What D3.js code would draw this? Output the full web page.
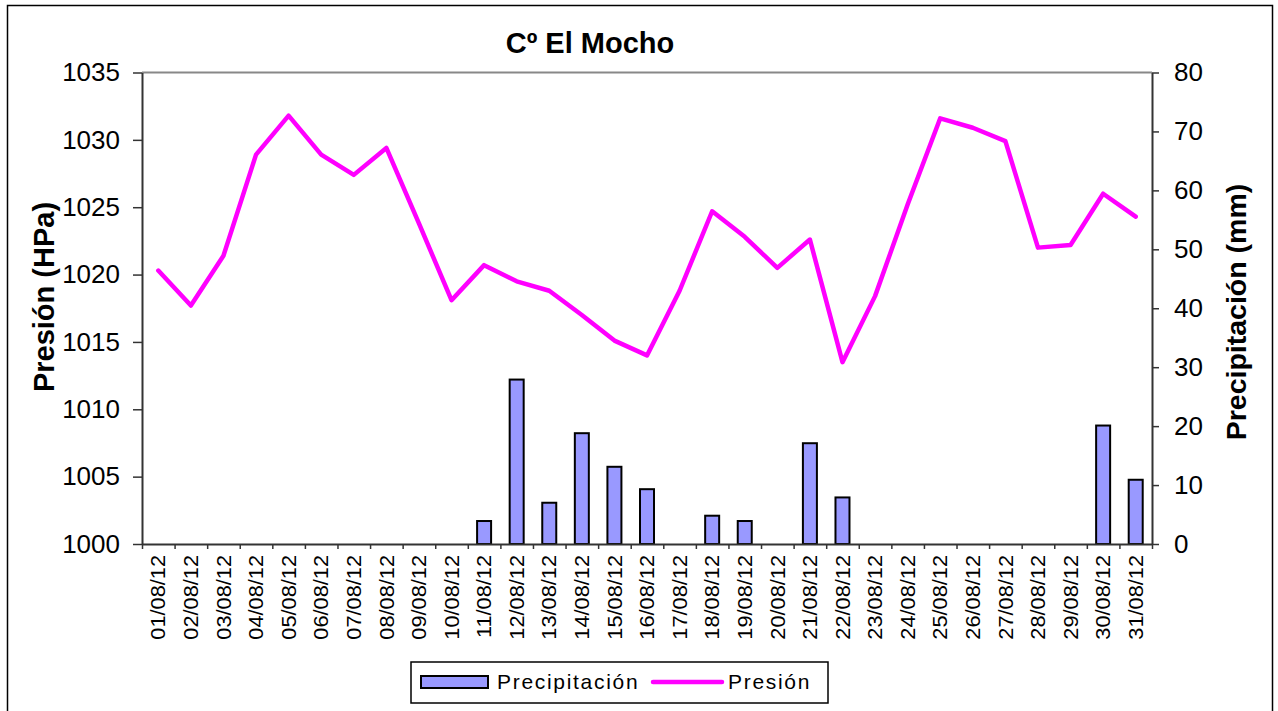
<!DOCTYPE html>
<html>
<head>
<meta charset="utf-8">
<script src="https://cdn.jsdelivr.net/npm/d3@7"></script>
<style>
  body { margin: 0; background: #fff; }
  svg { display: block; }
  text { font-family: "Liberation Sans", Arial, sans-serif; }
</style>
</head>
<body>
<svg id="chart" width="1278" height="711"></svg>
<script>
const dates = ["01/08/12","02/08/12","03/08/12","04/08/12","05/08/12","06/08/12","07/08/12","08/08/12","09/08/12","10/08/12",
  "11/08/12","12/08/12","13/08/12","14/08/12","15/08/12","16/08/12","17/08/12","18/08/12","19/08/12","20/08/12",
  "21/08/12","22/08/12","23/08/12","24/08/12","25/08/12","26/08/12","27/08/12","28/08/12","29/08/12","30/08/12","31/08/12"];
const presion = [1020.3,1017.7,1021.4,1028.9,1031.8,1028.9,1027.4,1029.4,1023.8,1018.1,
  1020.7,1019.5,1018.8,1017.0,1015.1,1014.0,1018.8,1024.7,1022.8,1020.5,
  1022.6,1013.5,1018.4,1025.2,1031.6,1030.9,1029.9,1022.0,1022.2,1026.0,1024.3];
const precipitacion = [0,0,0,0,0,0,0,0,0,0,
  3.9,27.9,7.0,18.8,13.1,9.3,0,4.8,3.9,0,
  17.1,7.9,0,0,0,0,0,0,0,20.1,10.9];
const presionTicks = [1000,1005,1010,1015,1020,1025,1030,1035];
const precipTicks = [0,10,20,30,40,50,60,70,80];

const svg = d3.select("#chart");
const L = 142, R = 1152, T = 72.5, B = 544;

// outer border
svg.append("rect").attr("x", 7.5).attr("y", 5.5).attr("width", 1265).attr("height", 720)
  .attr("fill", "none").attr("stroke", "#000").attr("stroke-width", 1.5);

const x = d3.scaleBand().domain(dates).range([L, R]).padding(0);
const xl = d3.scaleLinear().domain([0, dates.length]).range([L, R]);
const yP = d3.scaleLinear().domain([1000, 1035]).range([B, T]);
const yR = d3.scaleLinear().domain([0, 80]).range([B, T]);

// top border of plot area
svg.append("line").attr("x1", L).attr("x2", R).attr("y1", T).attr("y2", T)
  .attr("stroke", "#888").attr("stroke-width", 2);

// bars
svg.append("g").selectAll("rect").data(dates.map((d, i) => ({d, v: precipitacion[i]})).filter(o => o.v > 0))
  .join("rect")
  .attr("x", o => x(o.d) + x.bandwidth() / 2 - 7)
  .attr("width", 14)
  .attr("y", o => yR(o.v))
  .attr("height", o => B - yR(o.v))
  .attr("fill", "#9999FF").attr("stroke", "#000").attr("stroke-width", 2);

// line
const line = d3.line().x((d, i) => x(dates[i]) + x.bandwidth() / 2).y(d => yP(d));
svg.append("path").datum(presion).attr("d", line)
  .attr("fill", "none").attr("stroke", "#FF00FF").attr("stroke-width", 4.5)
  .attr("stroke-linejoin", "round").attr("stroke-linecap", "round");

// left axis
const gL = svg.append("g").attr("transform", `translate(${L},0)`)
  .call(d3.axisLeft(yP).tickValues(presionTicks).tickFormat(d3.format("d")).tickSize(9).tickSizeOuter(0).tickPadding(13));
gL.select(".domain").attr("stroke", "#333").attr("stroke-width", 2);
gL.selectAll(".tick line").attr("stroke", "#333").attr("stroke-width", 1.5);
gL.selectAll(".tick text").attr("font-size", 26).attr("fill", "#000").attr("font-family", "Liberation Sans, Arial, sans-serif");

// right axis
const gR = svg.append("g").attr("transform", `translate(${R},0)`)
  .call(d3.axisRight(yR).tickValues(precipTicks).tickSize(7).tickSizeOuter(0).tickPadding(15));
gR.select(".domain").attr("stroke", "#333").attr("stroke-width", 2);
gR.selectAll(".tick line").attr("stroke", "#333").attr("stroke-width", 1.5);
gR.selectAll(".tick text").attr("font-size", 26).attr("fill", "#000").attr("font-family", "Liberation Sans, Arial, sans-serif");

// bottom axis: ticks at boundaries
const gB = svg.append("g").attr("transform", `translate(0,${B})`)
  .call(d3.axisBottom(xl).ticks(dates.length).tickFormat("").tickSize(5).tickSizeOuter(0));
gB.select(".domain").attr("stroke", "#333").attr("stroke-width", 2);
gB.selectAll(".tick line").attr("stroke", "#333").attr("stroke-width", 1.5);

// bottom labels
const gBL = svg.append("g").attr("transform", `translate(0,${B})`)
  .call(d3.axisBottom(x).tickSize(0).tickPadding(0));
gBL.select(".domain").remove();
gBL.selectAll(".tick text")
  .attr("font-size", 20).attr("fill", "#000").attr("font-family", "Liberation Sans, Arial, sans-serif")
  .attr("text-anchor", "end")
  .attr("transform", "rotate(-90) scale(1.09,1)")
  .attr("x", -10).attr("y", 0).attr("dy", "0.36em");

// title
svg.append("text").attr("x", 590).attr("y", 53).attr("text-anchor", "middle")
  .attr("font-size", 29).attr("font-weight", "bold").text("Cº El Mocho");

// axis titles
svg.append("text").attr("transform", "translate(54,297) rotate(-90)").attr("text-anchor", "middle")
  .attr("font-size", 29).attr("font-weight", "bold").text("Presión (HPa)");
svg.append("text").attr("transform", "translate(1246,312) rotate(-90)").attr("text-anchor", "middle")
  .attr("font-size", 28.5).attr("font-weight", "bold").text("Precipitación (mm)");

// legend
const lg = svg.append("g");
lg.append("rect").attr("x", 411).attr("y", 662).attr("width", 417).attr("height", 41)
  .attr("fill", "#fff").attr("stroke", "#000").attr("stroke-width", 1.5);
lg.append("rect").attr("x", 421).attr("y", 676).attr("width", 67).attr("height", 12)
  .attr("fill", "#9999FF").attr("stroke", "#000").attr("stroke-width", 2);
lg.append("text").attr("x", 497).attr("y", 689).attr("font-size", 21).attr("letter-spacing", 1.7).text("Precipitación");
lg.append("line").attr("x1", 653).attr("x2", 722).attr("y1", 682).attr("y2", 682)
  .attr("stroke", "#FF00FF").attr("stroke-width", 4.5).attr("stroke-linecap", "round");
lg.append("text").attr("x", 728).attr("y", 689).attr("font-size", 21).attr("letter-spacing", 1.7).text("Presión");
</script>
</body>
</html>
